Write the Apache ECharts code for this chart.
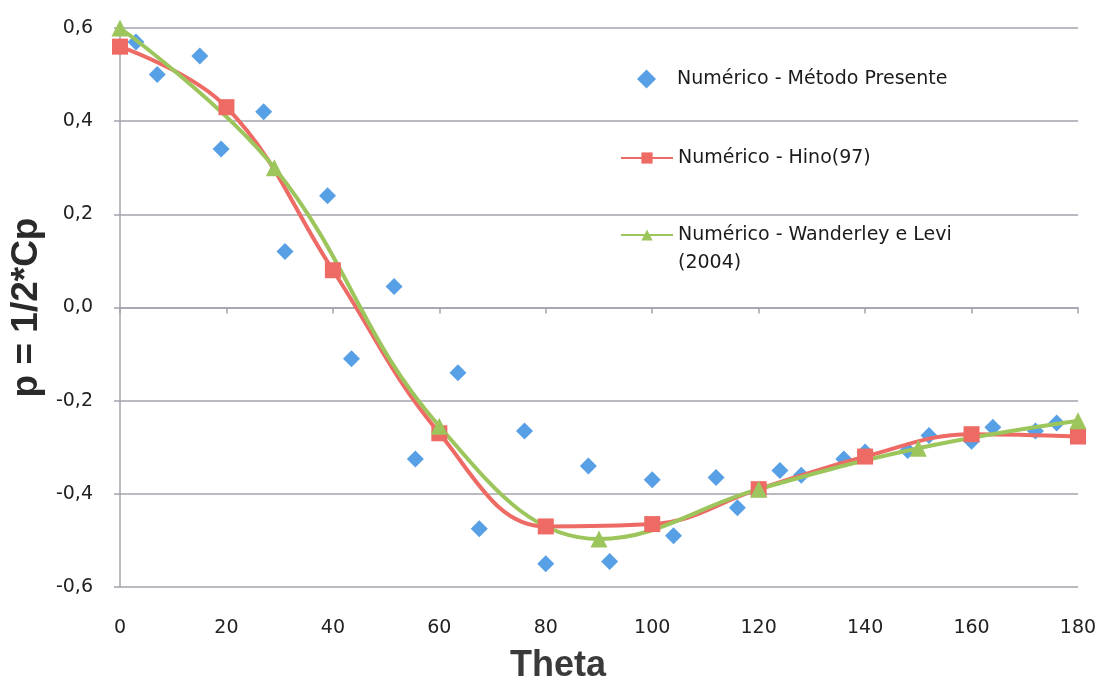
<!DOCTYPE html>
<html>
<head>
<meta charset="utf-8">
<title>p = 1/2*Cp x Theta</title>
<script src="https://cdn.jsdelivr.net/npm/echarts@6/dist/echarts.min.js"></script>
<style>
	html,body{margin:0;padding:0;background:#fff;}
	#cp_theta{width:1102px;height:682px;}
</style>
</head>
<body>
<div id="cp_theta"></div>
<script>
/*dados*/
var seriesNames = ['Numérico - Método Presente', 'Numérico - Hino(97)', 'Numérico - Wanderley e Levi (2004)'];

/*metodo presente (pontos)*/
var presenteTheta = [3, 7, 15, 19, 27, 31, 39, 43.5, 51.5, 55.5, 63.5, 67.5, 76, 80, 88, 92, 100, 104, 112, 116, 124, 128, 136, 140, 148, 152, 160, 164, 172, 176];
var presenteP = [0.57, 0.50, 0.54, 0.34, 0.42, 0.12, 0.24, -0.11, 0.045, -0.325, -0.14, -0.475, -0.265, -0.55, -0.34, -0.545, -0.37, -0.49, -0.365, -0.43, -0.35, -0.36, -0.325, -0.31, -0.307, -0.275, -0.287, -0.257, -0.265, -0.248];

/*Hino(97)*/
var hinoTheta = [0, 20, 40, 60, 80, 100, 120, 140, 160, 180];
var hinoP = [0.56, 0.43, 0.08, -0.27, -0.47, -0.465, -0.39, -0.32, -0.272, -0.277];

/*Wanderley e Levi (2004)*/
var wlTheta = [0, 29, 60, 90, 120, 150, 180];
var wlP = [0.60, 0.30, -0.255, -0.497, -0.39, -0.302, -0.243];

var xTicks = {min:0, max:180, interval:20};
var yTicks = {min:-0.6, max:0.6, interval:0.2};

function pares(xs, ys){
	var out = [];
	for(var i=0;i<xs.length;i++){
		out.push([xs[i], ys[i]]);
	}
	return out;
}

(function(){
	var myChart = echarts.init(document.getElementById("cp_theta"));
	var corAzul = '#2e88e0', corVermelho = '#ee6a64', corVerde = '#9cc65c';
	var gridCor = '#a3a3ad';
	var fonte = '"DejaVu Sans", "Open Sans", sans-serif';
	var legendaTexto = {
		fontFamily:fonte,
		fontSize:19,
		lineHeight:28,
		color:'#1b1b1b'
	};
	var option = {
		animation:false,
		textStyle:{
			fontFamily:fonte
		},
		grid:{
			left:120,
			right:24,
			top:28,
			bottom:95,
			outerBoundsMode:'none'
		},
		legend:[
			{
				/*so o losango, sem linha*/
				orient:'vertical',
				left:637,
				top:65,
				padding:0,
				itemWidth:19,
				itemHeight:19,
				textStyle:{
					fontFamily:fonte,
					fontSize:19,
					lineHeight:28,
					color:'#1b1b1b',
					padding:[0,0,0,16]
				},
				data:[seriesNames[0]]
			},
			{
				orient:'vertical',
				left:620,
				top:144,
				padding:0,
				itemWidth:52,
				itemHeight:14,
				textStyle:legendaTexto,
				data:[seriesNames[1]]
			},
			{
				orient:'vertical',
				left:620,
				top:193,
				padding:0,
				itemWidth:52,
				itemHeight:14,
				textStyle:legendaTexto,
				formatter:function(name){
					/*linha vazia em cima para alinhar o icone com a primeira linha*/
					return '\n' + name.replace(' (2004)', '\n(2004)');
				},
				data:[seriesNames[2]]
			}
		],
		xAxis:{
			type:'value',
			min:xTicks.min,
			max:xTicks.max,
			interval:xTicks.interval,
			name:'Theta',
			nameLocation:'middle',
			nameGap:61,
			nameTextStyle:{
				fontFamily:'"Liberation Sans", Arial, sans-serif',
				fontWeight:'bold',
				fontSize:36,
				color:'#3a3a3a',
				padding:[0,82,0,0]
			},
			axisLine:{
				lineStyle:{color:gridCor, width:1.5}
			},
			axisTick:{
				show:true,
				length:6,
				lineStyle:{color:gridCor, width:1.5}
			},
			axisLabel:{
				fontSize:19,
				color:'#222',
				margin:32
			},
			splitLine:{show:false}
		},
		yAxis:{
			type:'value',
			min:yTicks.min,
			max:yTicks.max,
			interval:yTicks.interval,
			name:'p = 1/2*Cp',
			nameLocation:'middle',
			nameGap:69,
			nameTextStyle:{
				fontFamily:'"Liberation Sans", Arial, sans-serif',
				fontWeight:'bold',
				fontSize:37,
				color:'#2a2a2a'
			},
			axisLine:{
				show:true,
				lineStyle:{color:gridCor, width:1.5}
			},
			axisTick:{
				show:true,
				length:6,
				lineStyle:{color:gridCor, width:1.5}
			},
			axisLabel:{
				fontSize:19,
				color:'#222',
				margin:27,
				formatter:function(v){
					return v.toFixed(1).replace('.', ',');
				}
			},
			splitLine:{
				lineStyle:{color:gridCor, width:1.5}
			}
		},
		series:[
			{
				name:seriesNames[0],
				type:'scatter',
				symbol:'diamond',
				symbolSize:17,
				itemStyle:{
					color:corAzul
				},
				data:pares(presenteTheta, presenteP)
			},
			{
				name:seriesNames[1],
				type:'line',
				smooth:0.4,
				symbol:'rect',
				symbolSize:16,
				itemStyle:{
					color:corVermelho
				},
				lineStyle:{
					color:corVermelho,
					width:4
				},
				data:pares(hinoTheta, hinoP)
			},
			{
				name:seriesNames[2],
				type:'line',
				smooth:0.4,
				symbol:'triangle',
				symbolSize:17,
				itemStyle:{
					color:corVerde
				},
				lineStyle:{
					color:corVerde,
					width:4
				},
				data:pares(wlTheta, wlP)
			}
		]
	};
	myChart.setOption(option);
})();
</script>
</body>
</html>
